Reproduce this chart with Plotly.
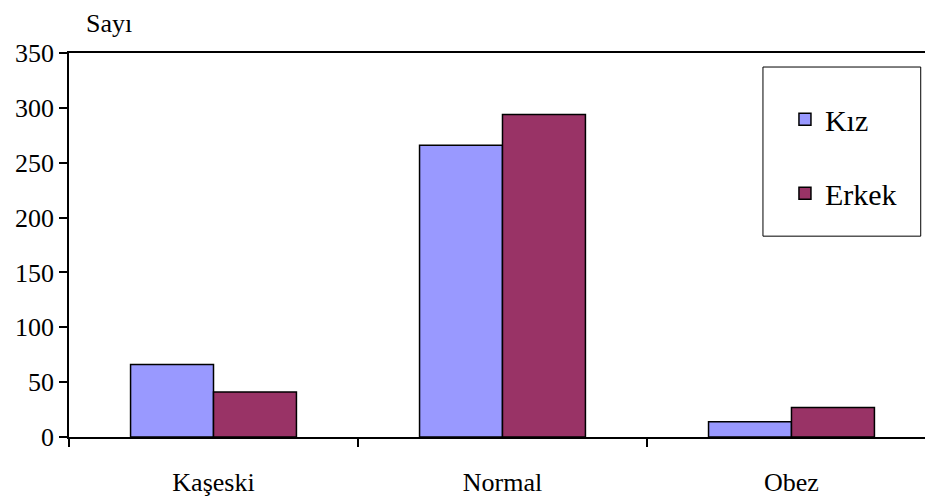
import plotly.graph_objects as go

# Weight status categories and counts by sex
categories = ["Kaşeski", "Normal", "Obez"]
kiz = [66, 266, 14]
erkek = [41, 294, 27]
y_ticks = [0, 50, 100, 150, 200, 250, 300, 350]

SERIF = "Liberation Serif"

fig = go.Figure()
fig.add_trace(go.Bar(
    x=categories, y=kiz, name="Kız", legendgroup="k",
    marker=dict(color="#9999FF", line=dict(color="black", width=1.5)),
))
fig.add_trace(go.Bar(
    x=categories, y=erkek, name="Erkek", legendgroup="e",
    marker=dict(color="#993366", line=dict(color="black", width=1.5)),
))

fig.update_layout(
    width=925, height=500,
    margin=dict(l=69, r=0, t=53, b=63, autoexpand=False),
    paper_bgcolor="white", plot_bgcolor="white",
    barmode="group", bargap=0.426, bargroupgap=0,
    font=dict(family=SERIF, color="black", size=25),
    showlegend=True,
    legend=dict(
        x=0.8364, y=0.895, xanchor="left", yanchor="top",
        bgcolor="rgba(0,0,0,0)", borderwidth=0,
        font=dict(family=SERIF, size=30, color="black"),
        tracegroupgap=32,
    ),
    xaxis=dict(
        type="category", range=[-0.5, 2.462], automargin=False,
        showline=True, linecolor="black", linewidth=1.5, mirror=True,
        ticks="outside", tickson="boundaries", ticklen=8, tickcolor="black",
        tickwidth=1.5, ticklabelstandoff=21, showgrid=False,
        tickfont=dict(family=SERIF, size=26, color="black"),
    ),
    yaxis=dict(
        range=[0, 350], tickvals=y_ticks, automargin=False,
        showline=True, linecolor="black", linewidth=1.5,
        ticks="outside", ticklen=8, tickcolor="black", tickwidth=1.5,
        showgrid=False, zeroline=False,
        tickfont=dict(family=SERIF, size=26, color="black"),
    ),
    shapes=[dict(
        type="rect", xref="paper", yref="paper",
        x0=0.8107, x1=0.995, y0=0.523, y1=0.9635,
        line=dict(color="black", width=1), fillcolor="rgba(0,0,0,0)",
    )],
    annotations=[dict(
        text="Sayı", xref="paper", yref="paper", x=0.047, y=1.078,
        xanchor="center", yanchor="middle", showarrow=False,
        font=dict(family=SERIF, size=26, color="black"),
    )],
)

fig.write_html("out.html")
